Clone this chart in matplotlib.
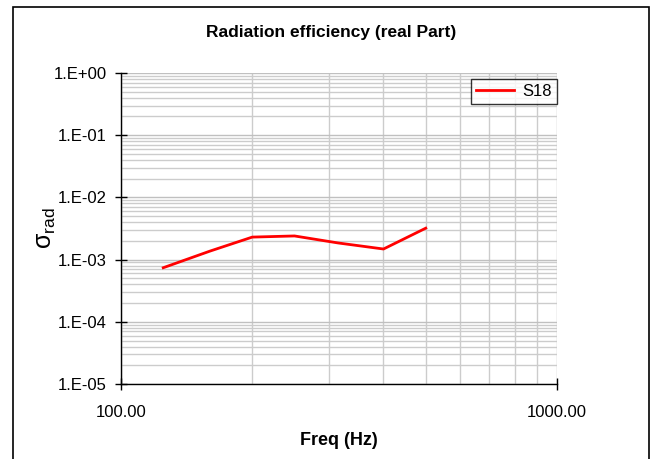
import matplotlib
matplotlib.use("Agg")
import matplotlib.pyplot as plt
from matplotlib.patches import Rectangle
from matplotlib.ticker import LogLocator, FixedLocator, NullFormatter, FuncFormatter

plt.rcParams['font.family'] = ['Liberation Sans', 'DejaVu Sans']

freq = [125, 160, 200, 250, 315, 400, 500]
sigma_s18 = [7.4e-4, 1.37e-3, 2.3e-3, 2.4e-3, 1.85e-3, 1.48e-3, 3.2e-3]
series_name = "S18"

fig = plt.figure(figsize=(6.54, 4.59), dpi=100)
ax = fig.add_axes([121/654, 1-384/459, (557-121)/654, (384-73)/459])

ax.plot(freq, sigma_s18, color='#ff0000', lw=2, label=series_name, zorder=3)
ax.set_xscale('log')
ax.set_yscale('log')
ax.set_xlim(100, 1000)
ax.set_ylim(1e-5, 1)

ax.xaxis.set_major_locator(FixedLocator([100, 1000]))
ax.xaxis.set_minor_locator(FixedLocator([200, 300, 400, 500, 600, 700, 800, 900]))
ax.xaxis.set_major_formatter(FuncFormatter(lambda v, p: f"{v:.2f}"))
ax.xaxis.set_minor_formatter(NullFormatter())
ax.yaxis.set_major_locator(LogLocator(base=10, numticks=10))
ax.yaxis.set_minor_locator(LogLocator(base=10, subs=range(2, 10), numticks=20))
ax.yaxis.set_minor_formatter(NullFormatter())

def yfmt(v, p):
    import math
    e = int(round(math.log10(v)))
    return f"1.E{'+' if e >= 0 else '-'}{abs(e):02d}"
ax.yaxis.set_major_formatter(FuncFormatter(yfmt))

ax.grid(True, which='major', color='#c0c0c0', lw=1.0)
ax.grid(True, which='minor', color='#cccccc', lw=1.0)
ax.set_axisbelow(True)

for s in ['top', 'right']:
    ax.spines[s].set_visible(False)
for s in ['left', 'bottom']:
    ax.spines[s].set_color('black')
    ax.spines[s].set_linewidth(1.0)

ax.tick_params(axis='y', which='major', direction='inout', length=8, width=1, labelsize=12, pad=6)
ax.tick_params(axis='y', which='minor', length=0)
ax.tick_params(axis='x', which='major', direction='inout', length=8, width=1, labelsize=12, pad=11)
ax.tick_params(axis='x', which='minor', length=0)

fig.text(331/654, 1-33/459, "Radiation efficiency (real Part)", fontsize=12.5, fontweight='bold',
         ha='center', va='center')
ax.set_xlabel("Freq (Hz)", fontsize=13, fontweight='bold', labelpad=9)
ax.set_ylabel(r"$\mathregular{\sigma_{rad}}$", fontsize=18, labelpad=-3)

leg = ax.legend(loc='upper right', bbox_to_anchor=(1.0, 0.98), frameon=True, fancybox=False,
                edgecolor='black', fontsize=12, handlelength=2.3, borderpad=0.3,
                handletextpad=0.5, borderaxespad=0.0)
leg.get_frame().set_linewidth(1.0)

fig.patches.append(Rectangle((13/654, -0.1), (649-13)/654, 1.1-7/459, transform=fig.transFigure,
                             fill=False, edgecolor='black', lw=1.2, clip_on=False))

fig.savefig("out.png", dpi=100)
